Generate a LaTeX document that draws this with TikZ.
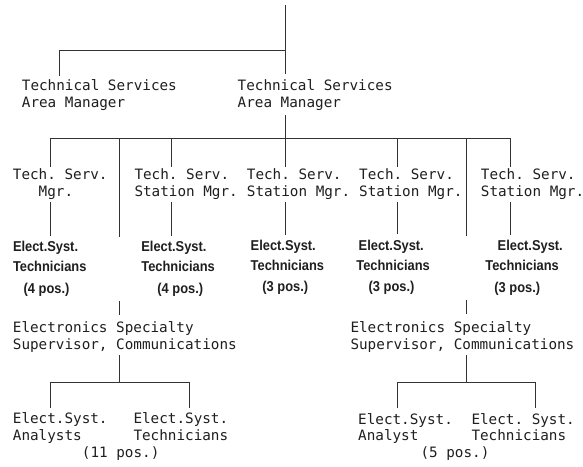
\documentclass[tikz,border=0pt]{standalone}
\usepackage{fontspec}
\newfontfamily\monof{DejaVu Sans Mono}
\newfontfamily\condf[FakeStretch=0.9]{Liberation Sans}
\colorlet{ink}{black!88}
\newcommand\hs{\rule{0pt}{11pt}}
\frenchspacing
\tikzset{
  mono/.style={inner sep=0pt, anchor=north west, align=left, text=ink,
    font=\monof\fontsize{14.3}{17.3}\selectfont\frenchspacing},
  monos/.style={mono, font=\monof\fontsize{14.3}{16.6}\selectfont\frenchspacing},
  monob/.style={mono, anchor=base west},
  bld/.style={inner sep=0pt, anchor=base west, text=ink,
    font=\condf\bfseries\fontsize{14.3}{17}\selectfont\frenchspacing},
  conn/.style={draw=black!80, line width=0.9pt}
}
\begin{document}
\begin{tikzpicture}[x=1pt,y=-1pt]
\useasboundingbox[fill=white] (0,0) rectangle (583,466);

% ---------- level 1
\node[mono] (am1) at (21.7,79) {\hs Technical Services\\Area Manager};
\node[mono] (am2) at (237.5,79) {\hs Technical Services\\Area Manager};
\coordinate (top) at (285,5);
\coordinate (j1) at (285,50);
\coordinate (k1) at (59.3,50);
\draw[conn] (top) -- ([yshift=5pt]am2.north -| top);
\draw[conn] (j1) -- (k1) -- ([yshift=3pt]am1.north -| k1);

% ---------- level 2 bar
\coordinate (j2) at (285,138.3);
\coordinate (b1) at (50.7,138.3);
\coordinate (b2) at (119.3,138.3);
\coordinate (b3) at (171.7,138.3);
\coordinate (b5) at (397.3,138.3);
\coordinate (b6) at (466.3,138.3);
\coordinate (b7) at (510.3,138.3);
\draw[conn] ([yshift=-4.3pt]am2.south -| j2) -- (j2);
\draw[conn] (b1) -- (b7);

% ---------- station managers
\node[mono] (t1) at (12.7,168.3) {\hs Tech. Serv.\\\hphantom{Mgr}Mgr.};
\node[mono] (t2) at (134.3,168.3) {\hs Tech. Serv.\\Station Mgr.};
\node[mono] (t3) at (246.7,168.3) {\hs Tech. Serv.\\Station Mgr.};
\node[mono] (t4) at (359,168.3) {\hs Tech. Serv.\\Station Mgr.};
\node[mono] (t5) at (480.7,168.3) {\hs Tech. Serv.\\Station Mgr.};

\draw[conn] (b1) -- ([yshift=1.5pt]t1.north -| b1);
\draw[conn] (b3) -- ([yshift=1.5pt]t2.north -| b3);
\draw[conn] (j2) -- ([yshift=1.5pt]t3.north -| j2);
\draw[conn] (b5) -- ([yshift=1.5pt]t4.north -| b5);
\draw[conn] (b7) -- ([yshift=1.5pt]t5.north -| b7);

% ---------- technicians (bold)
\node[bld] (es1) at (12.8,251.7) {Elect.Syst.};
\node[bld] (tc1) at (12.8,271) {Technicians};
\node[bld] (p1) at (23.5,293.3) {(4 pos.)};
\node[bld] (es2) at (141.2,251.7) {Elect.Syst.};
\node[bld] (tc2) at (141.2,271) {Technicians};
\node[bld] (p2) at (157.2,293.3) {(4 pos.)};
\node[bld] (es3) at (250.5,250.7) {Elect.Syst.};
\node[bld] (tc3) at (250.5,270.5) {Technicians};
\node[bld] (p3) at (262.2,291.7) {(3 pos.)};
\node[bld] (es4) at (358.5,250.7) {Elect.Syst.};
\node[bld] (tc4) at (356.2,270.7) {Technicians};
\node[bld] (p4) at (368.5,291.3) {(3 pos.)};
\node[bld] (es5) at (497.5,250.7) {Elect.Syst.};
\node[bld] (tc5) at (485.2,270.5) {Technicians};
\node[bld] (p5) at (494.2,292) {(3 pos.)};

\draw[conn] ([yshift=-1.7pt]t1.south -| b1) -- ([yshift=5.5pt]es1.north -| b1);
\draw[conn] ([yshift=-1.7pt]t2.south -| b3) -- ([yshift=5.5pt]es2.north -| b3);
\draw[conn] ([yshift=-1.7pt]t3.south -| j2) -- ([yshift=5.5pt]es3.north -| j2);
\draw[conn] ([yshift=-1.7pt]t4.south -| b5) -- ([yshift=6.5pt]es4.north -| b5);
\draw[conn] ([yshift=-1.7pt]t5.south -| b7) -- ([yshift=5.5pt]es5.north -| b7);

% ---------- electronics specialty supervisors
\node[mono] (ess1) at (12.7,321) {\hs Electronics Specialty\\Supervisor, Communications};
\node[mono] (ess2) at (350.3,321) {\hs Electronics Specialty\\Supervisor, Communications};

\draw[conn] (b2) -- ([yshift=4pt]es2.north -| b2);
\draw[conn] ([yshift=-5pt]p2.south -| b2) -- ([yshift=6.5pt]ess1.north -| b2);
\draw[conn] (b6) -- ([yshift=4.5pt]es5.north -| b6);
\draw[conn] ([yshift=-4.5pt]p5.south -| b6) -- ([yshift=7pt]ess2.north -| b6);

% ---------- bottom level
\coordinate (j3) at (119.3,382);
\coordinate (j4) at (466.3,382);
\coordinate (l1) at (50.7,382);
\coordinate (l2) at (189.3,382);
\coordinate (r1) at (397.3,382);
\coordinate (r2) at (535.7,382);
\draw[conn] ([yshift=-2.6pt]ess1.south -| j3) -- (j3);
\draw[conn] ([yshift=-2.6pt]ess2.south -| j4) -- (j4);
\draw[conn] (l1) -- (l2);
\draw[conn] (r1) -- (r2);

\node[monos] (ea1) at (12.7,412.7) {\hs Elect.Syst.\\Analysts};
\node[monos] (et1) at (133.3,412.7) {\hs Elect.Syst.\\Technicians};
\node[monob] (pp1) at (81.7,457) {(11 pos.)};
\node[monos] (ea2) at (358,413) {\hs Elect.Syst.\\Analyst};
\node[monos] (et2) at (471.3,413) {\hs Elect. Syst.\\Technicians};
\node[monob] (pp2) at (420.3,457.3) {(5 pos.)};

\draw[conn] (l1) -- ([yshift=5pt]ea1.north -| l1);
\draw[conn] (l2) -- ([yshift=5pt]et1.north -| l2);
\draw[conn] (r1) -- ([yshift=5pt]ea2.north -| r1);
\draw[conn] (r2) -- ([yshift=5pt]et2.north -| r2);
\end{tikzpicture}
\end{document}
